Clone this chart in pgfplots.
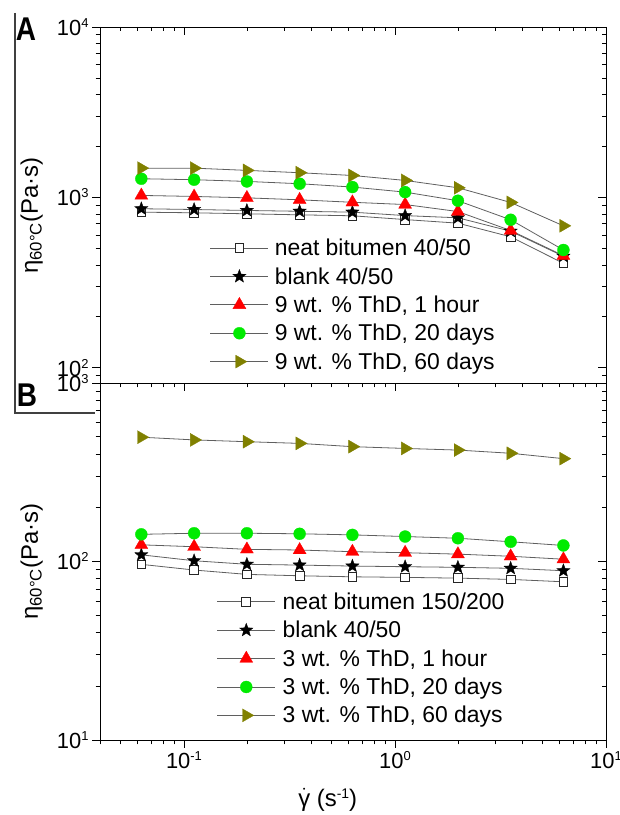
\documentclass[border=0pt]{standalone}
\usepackage{fontspec}
\setmainfont{Liberation Sans}
\usepackage{pgfplots}
\pgfplotsset{compat=1.18}
\definecolor{lgray}{RGB}{95,95,95}
\definecolor{mygreen}{RGB}{0,235,0}
\definecolor{myolive}{RGB}{128,128,0}
\pgfdeclareplotmark{fstar}{%
 \pgfpathmoveto{\pgfpointpolar{90}{\pgfplotmarksize}}%
 \pgfpathlineto{\pgfpointpolar{126}{0.42\pgfplotmarksize}}%
 \pgfpathlineto{\pgfpointpolar{162}{\pgfplotmarksize}}%
 \pgfpathlineto{\pgfpointpolar{198}{0.42\pgfplotmarksize}}%
 \pgfpathlineto{\pgfpointpolar{234}{\pgfplotmarksize}}%
 \pgfpathlineto{\pgfpointpolar{270}{0.42\pgfplotmarksize}}%
 \pgfpathlineto{\pgfpointpolar{306}{\pgfplotmarksize}}%
 \pgfpathlineto{\pgfpointpolar{342}{0.42\pgfplotmarksize}}%
 \pgfpathlineto{\pgfpointpolar{18}{\pgfplotmarksize}}%
 \pgfpathlineto{\pgfpointpolar{54}{0.42\pgfplotmarksize}}%
 \pgfpathclose
 \pgfusepathqfillstroke
}
\newcommand{\tp}[1]{10\raisebox{8bp}{\fontsize{13}{13}\selectfont #1}}
\pgfplotsset{
  every axis/.append style={
    scale only axis, width=506bp,
    xmin=0.04, xmax=10,
    axis line style={line width=0.9bp},
    major tick length=8bp, minor tick length=4.5bp,
    tick style={black, line width=0.9bp},
    tick label style={font=\fontsize{22}{24}\selectfont},
    xtick={0.1,1,10},
    minor xtick={0.04,0.05,0.06,0.07,0.08,0.09,0.2,0.3,0.4,0.5,0.6,0.7,0.8,0.9,2,3,4,5,6,7,8,9},
    label style={font=\fontsize{24}{26}\selectfont},
  },
}
\begin{document}
\begin{tikzpicture}[x=1bp,y=1bp]
\path[use as bounding box] (0,0) rectangle (620,-815);
\draw[line width=1.1bp, black!75] (15,-13) -- (15,-413) -- (95,-413);
\node[font=\bfseries\fontsize{33}{33}\selectfont, xscale=0.85] at (26,-29) {A};
\node[font=\bfseries\fontsize{33}{33}\selectfont, xscale=0.85] at (27,-395) {B};

% Panel A
\begin{loglogaxis}[at={(100bp,-27bp)}, anchor=north west, height=356bp,
  tick align=outside, xtick pos=left, ytick pos=left,
  ymin=81.6, ymax=10000,
  ytick={100,1000,10000}, yticklabels={\tp{2},\tp{3},\tp{4}},
  minor ytick={90,200,300,400,500,600,700,800,900,2000,3000,4000,5000,6000,7000,8000,9000},
  xticklabels={},
  ylabel={η\textsubscript{60°C}(Pa·s)},
  ylabel style={at={(axis description cs:-0.135,0.47)}, anchor=center},
  legend cell align=left,
  legend style={draw=none, fill=none, at={(axis description cs:0.2174,0.41)}, anchor=north west,
    inner sep=0pt, outer sep=0pt, row sep=6.3bp, column sep=4bp,
    font=\fontsize{23}{26}\selectfont},
  legend image code/.code={%
      \draw[mark repeat=2, mark phase=2] plot coordinates {(0bp,0bp) (29bp,0bp) (58bp,0bp)};
  },
]
\addplot[lgray, line width=0.8bp, mark=square*, mark size=4.4bp, mark options={draw=black!85, fill=white, line width=0.8bp}] coordinates {(0.0628,820)(0.1117,813)(0.1987,802)(0.3533,791)(0.6283,781)(1.117,742)(1.987,707)(3.533,588)(6.283,411)};
\addlegendentry{neat bitumen 40/50}
\addplot[lgray, line width=0.8bp, mark=fstar, mark size=7bp, mark options={draw=black, fill=black, line width=0.3bp}] coordinates {(0.0628,859)(0.1117,850)(0.1987,839)(0.3533,830)(0.6283,820)(1.117,783)(1.987,760)(3.533,634)(6.283,452)};
\addlegendentry{blank 40/50}
\addplot[lgray, line width=0.8bp, mark=triangle*, mark size=7.5bp, mark options={draw=red, fill=red, line width=0.3bp}] coordinates {(0.0628,1028)(0.1117,1014)(0.1987,995)(0.3533,969)(0.6283,937)(1.117,909)(1.987,827)(3.533,640)(6.283,456)};
\addlegendentry{9 wt. \% ThD, 1 hour}
\addplot[lgray, line width=0.8bp, mark=*, mark size=6bp, mark options={draw=mygreen, fill=mygreen, line width=0.3bp}] coordinates {(0.0628,1288)(0.1117,1271)(0.1987,1242)(0.3533,1204)(0.6283,1151)(1.117,1075)(1.987,957)(3.533,740)(6.283,492)};
\addlegendentry{9 wt. \% ThD, 20 days}
\addplot[lgray, line width=0.8bp, mark=triangle*, mark size=7.5bp, mark options={draw=myolive, fill=myolive, rotate=-90, line width=0.3bp}] coordinates {(0.0628,1486)(0.1117,1486)(0.1987,1442)(0.3533,1397)(0.6283,1346)(1.117,1259)(1.987,1140)(3.533,935)(6.283,682)};
\addlegendentry{9 wt. \% ThD, 60 days}
\end{loglogaxis}
\begin{loglogaxis}[at={(100bp,-27bp)}, anchor=north west, height=356bp,
  tick align=inside, xtick pos=right, ytick pos=right, xticklabels={}, yticklabels={},
  ymin=81.6, ymax=10000, ytick={100,1000,10000},
  minor ytick={90,200,300,400,500,600,700,800,900,2000,3000,4000,5000,6000,7000,8000,9000}]
\end{loglogaxis}

% Panel B
\begin{loglogaxis}[at={(100bp,-383bp)}, anchor=north west, height=357bp,
  tick align=outside, xtick pos=left, ytick pos=left,
  ymin=10, ymax=1000,
  ytick={10,100,1000}, yticklabels={\tp{1},\tp{2},\tp{3}},
  minor ytick={20,30,40,50,60,70,80,90,200,300,400,500,600,700,800,900},
  xticklabels={\tp{-1},\tp{0},\tp{1}},
  ylabel={η\textsubscript{60°C}(Pa·s)},
  ylabel style={at={(axis description cs:-0.135,0.5)}, anchor=center},
  xlabel={$\dot{\mbox{γ}}$ (s\raisebox{8bp}{\fontsize{14}{14}\selectfont -1})},
  xlabel style={at={(axis description cs:0.45,-0.168)}, anchor=center},
  legend cell align=left,
  legend style={draw=none, fill=none, at={(axis description cs:0.231,0.418)}, anchor=north west,
    inner sep=0pt, outer sep=0pt, row sep=6.3bp, column sep=5bp,
    font=\fontsize{23}{26}\selectfont},
  legend image code/.code={%
      \draw[mark repeat=2, mark phase=2] plot coordinates {(0bp,0bp) (29bp,0bp) (58bp,0bp)};
  },
]
\addplot[lgray, line width=0.8bp, mark=square*, mark size=4.4bp, mark options={draw=black!85, fill=white, line width=0.8bp}] coordinates {(0.0628,96.4)(0.1117,89.6)(0.1987,84.7)(0.3533,83.2)(0.6283,82.1)(1.117,81.5)(1.987,80.7)(3.533,79.4)(6.283,77.0)};
\addlegendentry{neat bitumen 150/200}
\addplot[lgray, line width=0.8bp, mark=fstar, mark size=7bp, mark options={draw=black, fill=black, line width=0.3bp}] coordinates {(0.0628,109)(0.1117,101)(0.1987,96.5)(0.3533,95.5)(0.6283,94.3)(1.117,93.5)(1.987,92.8)(3.533,91.6)(6.283,88.8)};
\addlegendentry{blank 40/50}
\addplot[lgray, line width=0.8bp, mark=triangle*, mark size=7.5bp, mark options={draw=red, fill=red, line width=0.3bp}] coordinates {(0.0628,124)(0.1117,121)(0.1987,117)(0.3533,116)(0.6283,113.5)(1.117,112)(1.987,110)(3.533,107)(6.283,103)};
\addlegendentry{3 wt. \% ThD, 1 hour}
\addplot[lgray, line width=0.8bp, mark=*, mark size=6bp, mark options={draw=mygreen, fill=mygreen, line width=0.3bp}] coordinates {(0.0628,142)(0.1117,144)(0.1987,144)(0.3533,143)(0.6283,141)(1.117,138)(1.987,135)(3.533,129)(6.283,123)};
\addlegendentry{3 wt. \% ThD, 20 days}
\addplot[lgray, line width=0.8bp, mark=triangle*, mark size=7.5bp, mark options={draw=myolive, fill=myolive, rotate=-90, line width=0.3bp}] coordinates {(0.0628,497)(0.1117,480)(0.1987,469)(0.3533,459)(0.6283,440)(1.117,430)(1.987,421)(3.533,404)(6.283,377)};
\addlegendentry{3 wt. \% ThD, 60 days}
\end{loglogaxis}
\begin{loglogaxis}[at={(100bp,-383bp)}, anchor=north west, height=357bp,
  tick align=inside, xtick pos=right, ytick pos=right, xticklabels={}, yticklabels={},
  ymin=10, ymax=1000, ytick={10,100,1000},
  minor ytick={20,30,40,50,60,70,80,90,200,300,400,500,600,700,800,900}]
\end{loglogaxis}
\end{tikzpicture}
\end{document}
